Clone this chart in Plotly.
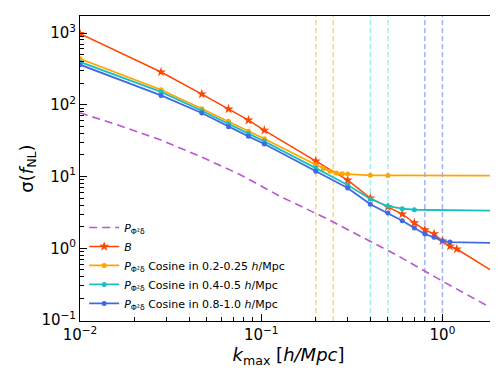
import plotly.graph_objects as go

# k_max values (h/Mpc) and sigma(f_NL)
k_P = [0.01, 0.0166, 0.0277, 0.046, 0.0766, 0.127, 0.226, 0.303, 0.571, 1.0, 2.0]
sigma_P = [77, 51, 32.6, 19.1, 10.6, 5.3, 2.64, 1.80, 0.78, 0.348, 0.133]

k_B = [0.01, 0.028, 0.047, 0.066, 0.085, 0.104, 0.2, 0.3, 0.4, 0.5, 0.6, 0.7, 0.8, 0.9, 1.0, 1.1, 1.2, 2.0]
sigma_B = [980, 286, 141, 87, 61, 44, 16.4, 8.9, 5.0, 3.76, 3.0, 2.25, 1.80, 1.58, 1.26, 1.07, 0.975, 0.44]

k_cos1 = [0.01, 0.028, 0.047, 0.066, 0.085, 0.104, 0.2, 0.22, 0.24, 0.26, 0.28, 0.3, 0.4, 0.5, 2.0]
sigma_cos1 = [438, 162, 88, 58.8, 42.7, 33.6, 14.6, 12.9, 11.8, 11.2, 10.96, 10.8, 10.4, 10.35, 10.3]

k_cos2 = [0.01, 0.028, 0.047, 0.066, 0.085, 0.104, 0.2, 0.3, 0.4, 0.5, 0.6, 0.7, 2.0]
sigma_cos2 = [395, 151, 82.6, 54, 39.5, 30.9, 13.1, 7.6, 4.85, 3.85, 3.56, 3.44, 3.33]

k_cos3 = [0.01, 0.028, 0.047, 0.066, 0.085, 0.104, 0.2, 0.3, 0.4, 0.5, 0.6, 0.7, 0.8, 0.9, 1.0, 1.1, 2.0]
sigma_cos3 = [362, 135, 76.7, 49.4, 36.3, 28.4, 11.8, 6.9, 4.1, 3.10, 2.42, 1.92, 1.58, 1.42, 1.27, 1.22, 1.18]

# cosine window edges
window_k = [0.2, 0.25, 0.4, 0.5, 0.8, 1.0]
window_colors = ["orange", "orange", "turquoise", "turquoise", "royalblue", "royalblue"]

PL = "<i>P</i><sub>Φ²δ</sub>"

fig = go.Figure()

for k, c in zip(window_k, window_colors):
    fig.add_vline(x=k, line=dict(color=c, width=1.5, dash="5px,3px"), opacity=0.5, layer="below")

fig.add_trace(go.Scatter(x=k_P, y=sigma_P, mode="lines", name=PL,
                         line=dict(color="mediumorchid", width=1.6, dash="8px,5px")))
fig.add_trace(go.Scatter(x=k_B, y=sigma_B, mode="lines+markers", name="<i>B</i>",
                         line=dict(color="orangered", width=1.5),
                         marker=dict(symbol="star", size=7.5, color="orangered")))
fig.add_trace(go.Scatter(x=k_cos1, y=sigma_cos1, mode="lines+markers",
                         name=PL + " Cosine in 0.2-0.25 <i>h</i>/Mpc",
                         line=dict(color="orange", width=1.8),
                         marker=dict(symbol="circle", size=5, color="orange")))
fig.add_trace(go.Scatter(x=k_cos2, y=sigma_cos2, mode="lines+markers",
                         name=PL + " Cosine in 0.4-0.5 <i>h</i>/Mpc",
                         line=dict(color="#1cbfbf", width=1.8),
                         marker=dict(symbol="circle", size=5, color="#1cbfbf")))
fig.add_trace(go.Scatter(x=k_cos3, y=sigma_cos3, mode="lines+markers",
                         name=PL + " Cosine in 0.8-1.0 <i>h</i>/Mpc",
                         line=dict(color="royalblue", width=1.8),
                         marker=dict(symbol="circle", size=5, color="royalblue")))

minor_y = [m * 10.0 ** e for e in range(-2, 4) for m in range(2, 10)]
minor_x = [m * 10.0 ** e for e in range(-2, 1) for m in range(2, 10)]

fig.update_layout(
    width=498, height=372,
    margin=dict(l=72, r=9, t=8, b=59),
    paper_bgcolor="white", plot_bgcolor="white",
    font=dict(family="DejaVu Sans", color="black"),
    showlegend=True,
    legend=dict(x=0.01, y=0.01, xanchor="left", yanchor="bottom",
                bgcolor="rgba(0,0,0,0)", font=dict(size=11),
                tracegroupgap=0, itemwidth=30),
)
fig.update_xaxes(
    type="log", range=[-2, 0.30103],
    showgrid=False, showline=True, mirror=True, linecolor="black", linewidth=1,
    ticks="inside", ticklen=7, tickcolor="black",
    tickvals=[0.01, 0.1, 1], ticktext=["10<sup>−2</sup>", "10<sup>−1</sup>", "10<sup>0</sup>"],
    tickfont=dict(size=15),
    minor=dict(tickvals=minor_x, ticks="inside", ticklen=4, tickcolor="black"),
    title=dict(text="<i>k</i><sub>max</sub> [<i>h/Mpc</i>]", font=dict(size=18), standoff=5),
)
fig.update_yaxes(
    type="log", range=[-1.014, 3.237],
    showgrid=False, showline=True, mirror=True, linecolor="black", linewidth=1,
    ticks="inside", ticklen=7, tickcolor="black",
    tickvals=[0.1, 1, 10, 100, 1000],
    ticktext=["10<sup>−1</sup>", "10<sup>0</sup>", "10<sup>1</sup>", "10<sup>2</sup>", "10<sup>3</sup>"],
    tickfont=dict(size=15),
    minor=dict(tickvals=minor_y, ticks="inside", ticklen=4, tickcolor="black"),
    title=dict(text="σ(<i>f</i><sub>NL</sub>)", font=dict(size=18), standoff=3),
)

fig.write_html("out.html")
